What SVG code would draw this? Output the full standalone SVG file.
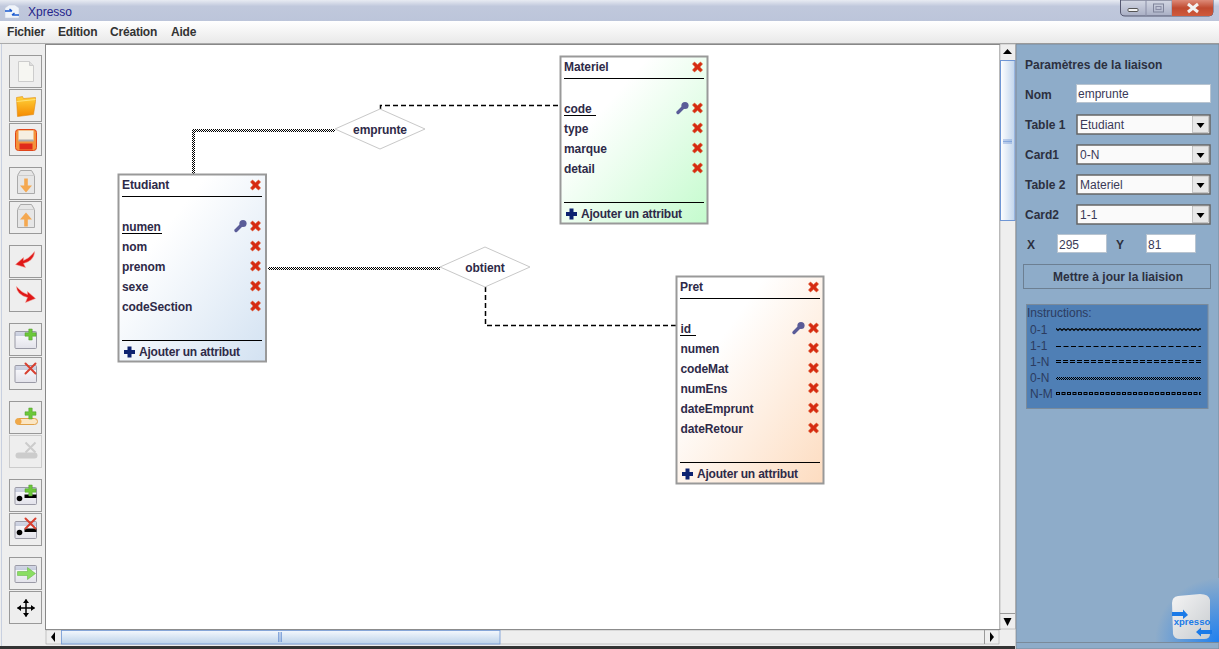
<svg xmlns="http://www.w3.org/2000/svg" width="1219" height="649" viewBox="0 0 1219 649">
<style>
text{font-family:"Liberation Sans",Arial,sans-serif;font-size:12px;fill:#2e2a48}
.b{font-weight:bold;letter-spacing:-.1px}
.a{font-weight:bold;letter-spacing:-.2px}
.m{font-weight:bold;fill:#333;letter-spacing:-.2px}
.p{font-weight:bold;fill:#2c3040}
.v{fill:#3a3a58}
.i{fill:#2c3c60}
.tb{stroke:#999;stroke-width:2}
.hl{stroke:#000;stroke-width:1}
.btn{fill:#eee;stroke:#999}
.dia{fill:#fff;stroke:#c8c8c8;stroke-width:1;stroke-linejoin:round}
.dash{fill:none;stroke:#000;stroke-width:1.5;stroke-dasharray:5 3}
.chk{fill:none;stroke:url(#chk);stroke-width:3}
.inp{fill:#fff;stroke:#b8c4d0}
.cmb{fill:#fafafa;stroke:#666;stroke-width:1.5}
</style>
<defs>
<pattern id="chk" width="2" height="2" patternUnits="userSpaceOnUse"><rect width="2" height="2" fill="#fff"/><rect width="1" height="1" fill="#000"/><rect x="1" y="1" width="1" height="1" fill="#000"/></pattern>
<pattern id="chk2" width="2" height="2" patternUnits="userSpaceOnUse"><rect width="1" height="1" fill="#000"/><rect x="1" y="1" width="1" height="1" fill="#000"/></pattern>
<pattern id="zig" width="4" height="4" patternUnits="userSpaceOnUse"><path d="M0 .5L2 2.500L4 .5" fill="none" stroke="#000" stroke-width="1.100"/></pattern>
<linearGradient id="title" x1="0" y1="0" x2="0" y2="1"><stop offset="0" stop-color="#e8ebf2"/><stop offset=".3" stop-color="#c0c8dc"/><stop offset="1" stop-color="#bcc5da"/></linearGradient>
<linearGradient id="menu" x1="0" y1="0" x2="0" y2="1"><stop offset="0" stop-color="#fff"/><stop offset="1" stop-color="#e9e9e9"/></linearGradient>
<linearGradient id="gE" x1="0" y1="0" x2="1" y2="1"><stop offset=".3" stop-color="#fff"/><stop offset="1" stop-color="#d3e2f2"/></linearGradient>
<linearGradient id="gM" x1="0" y1="0" x2="1" y2="1"><stop offset=".3" stop-color="#fff"/><stop offset="1" stop-color="#c4fbcd"/></linearGradient>
<linearGradient id="gP" x1="0" y1="0" x2="1" y2="1"><stop offset=".3" stop-color="#fff"/><stop offset="1" stop-color="#fddcc0"/></linearGradient>
<linearGradient id="sv" x1="0" y1="0" x2="1" y2="0"><stop offset="0" stop-color="#fff"/><stop offset="1" stop-color="#c0d4ec"/></linearGradient>
<linearGradient id="sh" x1="0" y1="0" x2="0" y2="1"><stop offset="0" stop-color="#f4f8fd"/><stop offset="1" stop-color="#bcd2e9"/></linearGradient>
<linearGradient id="orange" x1="0" y1="0" x2="0" y2="1"><stop offset="0" stop-color="#ffd23a"/><stop offset="1" stop-color="#f58a00"/></linearGradient>
<linearGradient id="win" x1="0" y1="0" x2="0" y2="1"><stop offset="0" stop-color="#d4d8e6"/><stop offset=".25" stop-color="#c8cede"/><stop offset=".26" stop-color="#f6f6fa"/><stop offset="1" stop-color="#e2e2ea"/></linearGradient>
<linearGradient id="close" x1="0" y1="0" x2="0" y2="1"><stop offset="0" stop-color="#dd8a78"/><stop offset=".5" stop-color="#c04a30"/><stop offset="1" stop-color="#d05a3c"/></linearGradient>
<linearGradient id="ctl" x1="0" y1="0" x2="0" y2="1"><stop offset="0" stop-color="#d4d8e4"/><stop offset="1" stop-color="#a8aec4"/></linearGradient>
<linearGradient id="cube" x1="0" y1="0" x2="1" y2="1"><stop offset="0" stop-color="#f4f4f4"/><stop offset="1" stop-color="#c8ccd0"/></linearGradient>
<radialGradient id="glow" cx="1" cy="1" r="1"><stop offset="0" stop-color="#1f80f0"/><stop offset="1" stop-color="#8eacc9"/></radialGradient>
<path id="x" d="M-5-3L-3-5L0-2.300L3-5L5-3L2.300 0L5 3L3 5L0 2.300L-3 5L-5 3L-2.300 0Z" fill="#d62a12" stroke="#d8481a" stroke-width=".6"/>
<path id="add" d="M-2-5.500H2V-2H5.500V2H2V5.500H-2V2H-5.500V-2H-2Z" fill="#0c2270"/>
<g id="key"><circle cx="2.500" cy="-2.500" r="3.600" fill="#5a5c98"/><path d="M2-2L-4.500 4.500" stroke="#5a5c98" stroke-width="3.400" stroke-linecap="round"/></g>
<g id="wn"><rect x="5.500" y="8" width="21.500" height="17" rx="1" fill="url(#win)" stroke="#9a9aa6"/></g>
<path id="gp" d="M-1.700-5.500H1.700V-1.700H5.500V1.700H1.700V5.500H-1.700V1.700H-5.500V-1.700H-1.700Z" fill="#6cc83a" stroke="#4e9a28" stroke-width=".5"/>
<path id="rx" d="M-5-5L5 5M5-5L-5 5" stroke="#d84030" stroke-width="2" stroke-linecap="round"/>
<path id="dn" d="M-1.800-7H1.800V0H6L0 7L-6 0H-1.800Z" fill="#f4a850"/>
<g id="bx"><path d="M8 8L11 3H22L25 8V26H8Z" fill="#e6e6e6" stroke="#aaa"/><path d="M8 8H25" stroke="#ccc"/></g>
<path id="tr" d="M-4-2H4L0 3Z" fill="#000"/>
</defs>

<rect width="1219" height="649" fill="#eeeeee"/>

<g id="titlebar">
<rect width="1219" height="21" fill="url(#title)"/>
<path d="M5 8L9 5H15L19 8V18H5Z" fill="#f0f4fa" stroke="#c0c8d8" stroke-width=".5"/>
<path d="M5 11H12M12 11L9.500 9M12 15H19M12 15L14.500 13" stroke="#1a5ad0" stroke-width="1.500" fill="none"/>
<text x="28" y="16" style="fill:#24248a">Xpresso</text>
<path d="M1120.500 0V12Q1120.500 16 1125 16H1209Q1213 16 1213 12V0Z" fill="url(#ctl)" stroke="#555870"/>
<path d="M1146 0V16M1172 0V16" stroke="#8a8ea6"/>
<path d="M1172 0H1213V12Q1213 16 1209 16H1172Z" fill="url(#close)"/>
<rect x="1128" y="8.500" width="10" height="3" rx="1" fill="#f4f4f4" stroke="#555"/>
<rect x="1153.500" y="4" width="10" height="8" fill="none" stroke="#7f849a"/><rect x="1156" y="6.500" width="5" height="3" fill="none" stroke="#8a8ea6"/>
<path d="M1188 4L1198 12M1198 4L1188 12" stroke="#f2f2f2" stroke-width="3"/>
</g>

<g id="menubar">
<rect y="21" width="1219" height="22" fill="url(#menu)"/>
<path d="M0 43.500H1219" stroke="#aaa"/>
<text class="m" x="7" y="36">Fichier</text>
<text class="m" x="58" y="36">Edition</text>
<text class="m" x="110" y="36">Création</text>
<text class="m" x="171" y="36">Aide</text>
</g>

<g id="canvas">
<rect x="45.500" y="44.500" width="954.500" height="585" fill="#fff" stroke="#888"/>
</g>

<g id="toolbar">
<path d="M1.500 44V646" stroke="#c8d0e0"/>
<g transform="translate(9.500 55.500)"><rect class="btn" width="32" height="32"/><path d="M9 6H20L24 10V26H9Z" fill="#f6f6f2" stroke="#ccc"/><path d="M20 6V10H24" fill="#ddd" stroke="#ccc"/></g>
<g transform="translate(9.500 89.500)"><rect class="btn" width="32" height="32"/><path d="M7 8L13 7L14 9L26 8L26 12L24 25L8 27Z" fill="url(#orange)" stroke="#e08a10" stroke-width=".6"/><path d="M7 12L26 10" stroke="#ffe37a"/></g>
<g transform="translate(9.500 123.500)"><rect class="btn" width="32" height="32"/><rect x="6" y="6" width="21" height="21" rx="3" fill="#f4923a" stroke="#e0451a"/><rect x="9" y="7" width="15" height="10" fill="#f6efe2"/><rect x="10" y="20" width="13" height="6" fill="#e02c1a"/><rect x="9" y="16" width="15" height="2" fill="#aaa"/></g>
<g transform="translate(9.500 167.500)"><rect class="btn" width="32" height="32"/><use href="#bx"/><use href="#dn" x="16.500" y="18"/></g>
<g transform="translate(9.500 201.500)"><rect class="btn" width="32" height="32"/><use href="#bx"/><use href="#dn" transform="translate(16.500 18) scale(1 -1)"/></g>
<g transform="translate(9.500 245.500)"><rect class="btn" width="32" height="32"/><path d="M25 6Q25 15 14 18L16 22L6 19L14 12L14 15Q20 13 25 6Z" fill="#e01818" stroke="#f09a90" stroke-width=".5"/></g>
<g transform="translate(9.500 279.500)"><rect class="btn" width="32" height="32"/><path d="M7 7Q7 15 18 18L16 23L26 19L18 12L18 15Q12 13 7 7Z" fill="#e01818" stroke="#f09a90" stroke-width=".5"/></g>
<g transform="translate(9.500 323.500)"><rect class="btn" width="32" height="32"/><use href="#wn"/><use href="#gp" x="21" y="11"/></g>
<g transform="translate(9.500 357.500)"><rect class="btn" width="32" height="32"/><use href="#wn"/><use href="#rx" x="21" y="11"/></g>
<g transform="translate(9.500 401.500)"><rect class="btn" width="32" height="32"/><rect x="6" y="17" width="22" height="6" rx="3" fill="#fbe6c4" stroke="#e0a24a"/><circle cx="9" cy="20" r="3" fill="#f0a848"/><use href="#gp" x="21" y="12"/></g>
<g transform="translate(9.500 435.500)"><rect width="32" height="32" fill="#eee" stroke="#ccc"/><rect x="6" y="17" width="22" height="6" rx="3" fill="#ccc"/><path d="M16 7L26 17M26 7L16 17" stroke="#ccc" stroke-width="2"/></g>
<g transform="translate(9.500 479.500)"><rect class="btn" width="32" height="32"/><use href="#wn"/><circle cx="10" cy="19" r="2.800" fill="#000"/><rect x="15" y="15" width="12" height="3.500" fill="#000"/><use href="#gp" x="21" y="11"/></g>
<g transform="translate(9.500 513.500)"><rect class="btn" width="32" height="32"/><use href="#wn"/><circle cx="10" cy="19" r="2.800" fill="#000"/><rect x="15" y="15" width="12" height="3.500" fill="#000"/><use href="#rx" x="21" y="10"/></g>
<g transform="translate(9.500 557.500)"><rect class="btn" width="32" height="32"/><use href="#wn"/><path d="M8 14H18V10L26 16L18 22V18H8Z" fill="#8ade62" stroke="#5cae3a" stroke-width=".5"/></g>
<g transform="translate(9.500 591.500)"><rect class="btn" width="32" height="32"/><path d="M16.500 8V25M8 16.500H25" stroke="#000" stroke-width="1.500"/><path d="M16.500 7.500L13.500 11.500H19.500ZM16.500 25.500L13.500 21.500H19.500ZM7.500 16.500L11.500 13.500V19.500ZM25.500 16.500L21.500 13.500V19.500Z" fill="#000"/></g>
</g>

<g id="connectors">
<path class="chk" d="M193.500 174V130.500H335"/>
<path class="chk" d="M268 268.500H440"/>
<path class="dash" d="M380.500 109V105.500H559"/>
<path class="dash" d="M485.500 287V325.500H676"/>
</g>

<g id="rel-emprunte">
<path class="dia" d="M335 129L380 109L425 129L380 149Z"/>
<text class="b" x="380" y="134" text-anchor="middle">emprunte</text>
</g>
<g id="rel-obtient">
<path class="dia" d="M440 267L485 247L530 267L485 287Z"/>
<text class="b" x="485" y="272" text-anchor="middle">obtient</text>
</g>

<g id="table-etudiant">
<rect class="tb" x="118.500" y="174.500" width="147.500" height="187" fill="url(#gE)"/>
<text class="b" x="122" y="189">Etudiant</text>
<use href="#x" x="255.500" y="185"/>
<path class="hl" d="M122 196.500H262M122 340.500H262M122 233.500H162"/>
<text class="b" x="122" y="231">numen</text><use href="#key" x="240.500" y="226"/><use href="#x" x="255.500" y="226"/>
<text class="b" x="122" y="251">nom</text><use href="#x" x="255.500" y="246"/>
<text class="b" x="122" y="271">prenom</text><use href="#x" x="255.500" y="266"/>
<text class="b" x="122" y="291">sexe</text><use href="#x" x="255.500" y="286"/>
<text class="b" x="122" y="311">codeSection</text><use href="#x" x="255.500" y="306"/>
<use href="#add" x="129.500" y="352"/>
<text class="a" x="139" y="356">Ajouter un attribut</text>
</g>

<g id="table-materiel">
<rect class="tb" x="560.500" y="56.500" width="147" height="167" fill="url(#gM)"/>
<text class="b" x="564" y="71">Materiel</text>
<use href="#x" x="697.500" y="67"/>
<path class="hl" d="M564 78.500H704M564 202.500H704M564 115.500H596"/>
<text class="b" x="564" y="113">code</text><use href="#key" x="682.500" y="108"/><use href="#x" x="697.500" y="108"/>
<text class="b" x="564" y="133">type</text><use href="#x" x="697.500" y="128"/>
<text class="b" x="564" y="153">marque</text><use href="#x" x="697.500" y="148"/>
<text class="b" x="564" y="173">detail</text><use href="#x" x="697.500" y="168"/>
<use href="#add" x="571.500" y="214"/>
<text class="a" x="581" y="218">Ajouter un attribut</text>
</g>

<g id="table-pret">
<rect class="tb" x="676.500" y="276.500" width="147" height="207" fill="url(#gP)"/>
<text class="b" x="680" y="291">Pret</text>
<use href="#x" x="813.500" y="287"/>
<path class="hl" d="M680 298.500H820M680 462.500H820M680 335.500H696"/>
<text class="b" x="680.500" y="333">id</text><use href="#key" x="798.500" y="328"/><use href="#x" x="813.500" y="328"/>
<text class="b" x="680.500" y="353">numen</text><use href="#x" x="813.500" y="348"/>
<text class="b" x="680.500" y="373">codeMat</text><use href="#x" x="813.500" y="368"/>
<text class="b" x="680.500" y="393">numEns</text><use href="#x" x="813.500" y="388"/>
<text class="b" x="680.500" y="413">dateEmprunt</text><use href="#x" x="813.500" y="408"/>
<text class="b" x="680.500" y="433">dateRetour</text><use href="#x" x="813.500" y="428"/>
<use href="#add" x="687.500" y="474"/>
<text class="a" x="697" y="478">Ajouter un attribut</text>
</g>

<g id="scrollbars">
<rect x="1000" y="44" width="15.500" height="585" fill="#eee" stroke="#999" stroke-width=".5"/>
<rect x="1000.500" y="60.500" width="14.500" height="160" fill="url(#sv)" stroke="#6f96d4"/>
<path d="M1003 140H1012M1003 141.500H1012M1003 143H1012" stroke="#6f96d4" stroke-width=".8"/>
<path d="M1007.500 49L1003 54H1012Z" fill="#000"/>
<path d="M1007.500 626L1003.500 618H1011.500Z" fill="#000"/>
<path d="M1000 613.500H1015" stroke="#999"/>
<rect x="46" y="630" width="953" height="14" fill="#eee" stroke="#999" stroke-width=".5"/>
<rect x="61.500" y="630.500" width="438.500" height="13.500" fill="url(#sh)" stroke="#6f96d4" stroke-width=".8"/>
<path d="M278.500 632V642M280 632V642M281.500 632V642" stroke="#6f96d4" stroke-width=".8"/>
<path d="M51 637L55 632V642Z" fill="#000"/>
<path d="M994 637L990 632V642Z" fill="#000"/>
<path d="M984.500 630V644" stroke="#999"/>
<path d="M0 647.500H1015" stroke="#333" stroke-width="3"/>
</g>

<g id="panel">
<rect x="1016" y="44" width="203" height="605" fill="#8eacc9" stroke="#777" stroke-width=".6"/>
<rect x="1155" y="578" width="64" height="64" fill="url(#glow)"/>
<path d="M1016 642.500H1219" stroke="#7a8a9a"/>
<text class="p" x="1025" y="69">Paramètres de la liaison</text>
<text class="p" x="1025" y="99">Nom</text>
<text class="p" x="1025" y="129">Table 1</text>
<text class="p" x="1025" y="159">Card1</text>
<text class="p" x="1025" y="189">Table 2</text>
<text class="p" x="1025" y="219">Card2</text>
<text class="p" x="1027" y="249">X</text>
<text class="p" x="1116" y="249">Y</text>
<rect class="inp" x="1076.500" y="84.500" width="134" height="18"/>
<text class="v" x="1078" y="98">emprunte</text>
<g id="combos">
<rect class="cmb" x="1077" y="115" width="133" height="19"/><rect x="1192.500" y="116" width="16" height="16.500" fill="#e8e8e8" stroke="#999" stroke-width=".5"/><use href="#tr" x="1200.500" y="125"/><text class="v" x="1080" y="129">Etudiant</text>
<rect class="cmb" x="1077" y="145" width="133" height="19"/><rect x="1192.500" y="146" width="16" height="16.500" fill="#e8e8e8" stroke="#999" stroke-width=".5"/><use href="#tr" x="1200.500" y="155"/><text class="v" x="1080" y="159">0-N</text>
<rect class="cmb" x="1077" y="175" width="133" height="19"/><rect x="1192.500" y="176" width="16" height="16.500" fill="#e8e8e8" stroke="#999" stroke-width=".5"/><use href="#tr" x="1200.500" y="185"/><text class="v" x="1080" y="189">Materiel</text>
<rect class="cmb" x="1077" y="205" width="133" height="19"/><rect x="1192.500" y="206" width="16" height="16.500" fill="#e8e8e8" stroke="#999" stroke-width=".5"/><use href="#tr" x="1200.500" y="215"/><text class="v" x="1080" y="219">1-1</text>
</g>
<rect class="inp" x="1057.500" y="234.500" width="49" height="18"/><text class="v" x="1059" y="249">295</text>
<rect class="inp" x="1146.500" y="234.500" width="49" height="18"/><text class="v" x="1148" y="249">81</text>
<rect x="1023.500" y="264.500" width="187" height="24" fill="#8eacc9" stroke="#6c7f92"/>
<text class="p" x="1118" y="281" text-anchor="middle">Mettre à jour la liaision</text>
<g id="instructions">
<rect x="1026.500" y="304.500" width="181.500" height="104" fill="#4f7fb5" stroke="#7a8a9a"/>
<text class="i" x="1027" y="317">Instructions:</text>
<text class="i" x="1030" y="334">0-1</text>
<text class="i" x="1030" y="350">1-1</text>
<text class="i" x="1030" y="366">1-N</text>
<text class="i" x="1030" y="382">0-N</text>
<text class="i" x="1030" y="398">N-M</text>
<rect x="1056" y="328" width="145" height="4" fill="url(#zig)"/>
<path d="M1056 346.500H1201" stroke="#000" stroke-dasharray="5 2.500"/>
<path d="M1056 360.500H1201M1056 362.500H1201" stroke="#000" stroke-dasharray="5 2"/>
<rect x="1056" y="377" width="145" height="3" fill="url(#chk2)"/>
<path d="M1056 393.500H1201" stroke="#000" stroke-width="3" stroke-dasharray="4 1.500"/>
<path d="M1056 393.500H1201" stroke="#4f7fb5" stroke-width="1" stroke-dasharray="2 3.500" stroke-dashoffset="-1"/>
</g>
</g>

<g id="logo">
<path d="M1172 603Q1172 597 1178 596L1200 594Q1209 594 1210 600V634Q1210 639 1204 639H1180Q1174 639 1173 634Z" fill="url(#cube)"/>
<path d="M1172 612H1183V609.500L1188 615L1183 619V616H1172Z" fill="#1a7ae8"/>
<path d="M1212 630H1201V627.500L1196 632L1201 636.500V634H1212Z" fill="#1a7ae8"/>
<text x="1192" y="625" text-anchor="middle" style="font-size:9.500px;font-weight:bold;fill:#1a7ae8">xpresso</text>
</g>
</svg>
